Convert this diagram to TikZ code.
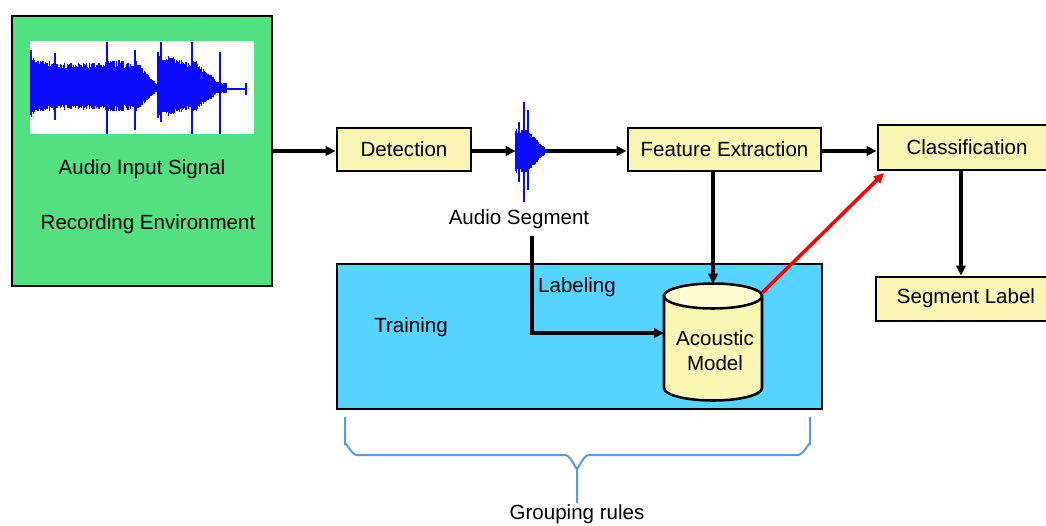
\documentclass[tikz,border=0pt]{standalone}
\usepackage{fontspec}
\setmainfont{Liberation Sans}
\usetikzlibrary{arrows.meta,fit}
\definecolor{envgreen}{RGB}{82,224,128}
\definecolor{boxyellow}{RGB}{250,246,180}
\definecolor{cyltop}{RGB}{253,251,208}
\definecolor{trainblue}{RGB}{85,212,255}
\definecolor{wavblue}{RGB}{10,10,250}
\definecolor{bracecol}{RGB}{91,155,213}
\tikzset{
  box/.style={draw, line width=2.1pt, fill=boxyellow, inner sep=0pt},
  arr/.style={line width=2.6pt, -{Triangle[length=7.5pt,width=7pt]}},
  redarr/.style={line width=2.6pt, red, -{Triangle[length=7.5pt,width=7pt]}},
  wav/.style={wavblue, line width=0.9pt},
  txt/.style={inner sep=0pt}
}
\begin{document}
\begin{tikzpicture}[x=0.75pt, y=-0.75pt, font=\fontsize{15.4}{18.75}\selectfont]
\useasboundingbox (0,0) rectangle (1046,525);

% recording environment box
\node[draw, line width=2.1pt, fill=envgreen, inner sep=0pt, fit={(12,16) (272,286)}] (env) {};
\fill[white] (30,41) rectangle (254,134);
\pgfmathsetseed{11}
\foreach \x in {31,31.7,...,106} {
  \pgfmathsetmacro\a{(26+9*exp(-(\x-31)/8))*(0.75+0.25*rnd)}
  \draw[wav] (\x,88-\a) -- (\x,88+0.85*\a);
}
\foreach \x in {107,107.7,...,134} {
  \pgfmathsetmacro\a{(30-5*(\x-107)/27)*(0.75+0.25*rnd)}
  \draw[wav] (\x,88-\a) -- (\x,88+0.85*\a);
}
\foreach \x in {135,135.7,...,157} {
  \pgfmathsetmacro\a{(28*(1-(\x-135)/23)+2)*(0.75+0.25*rnd)}
  \draw[wav] (\x,88-\a) -- (\x,88+0.85*\a);
}
\foreach \x in {158,158.7,...,191} {
  \pgfmathsetmacro\a{(36-11*(\x-158)/33)*(0.75+0.25*rnd)}
  \draw[wav] (\x,88-\a) -- (\x,88+0.85*\a);
}
\foreach \x in {192,192.7,...,219} {
  \pgfmathsetmacro\a{(28*(1-(\x-192)/28)+4)*(0.75+0.25*rnd)}
  \draw[wav] (\x,88-\a) -- (\x,88+0.85*\a);
}
\foreach \x in {219,219.7,...,226} {
  \pgfmathsetmacro\a{5*(0.6+0.4*rnd)}
  \draw[wav] (\x,88-\a) -- (\x,88+\a);
}
\draw[wav, line width=0.8pt] (226,89) -- (245,89);
\draw[wav, line width=2pt] (246,83) -- (246,95);
\foreach \sx/\ta/\tb in {31/50/112, 55/53/120, 107/42/134, 135/50/130, 161/42/122, 192/42/134, 220/52/134} {
  \draw[wav, line width=1.1pt] (\sx,\ta) -- (\sx,\tb);
}
\node[txt] (ais) at (142,169) {Audio Input Signal};
\node[txt] (rec) at (148,224) {Recording Environment};

% detection
\node[box, fit={(337,128) (471,171)}] (det) {};
\node[txt] (dettxt) at (det.center) {Detection};

% small audio segment waveform
\node[inner sep=0pt, minimum width=23.25pt, minimum height=75pt] (seg) at (531.5,151) {};
\pgfmathsetseed{5}
\foreach \x in {516,516.6,...,547} {
  \pgfmathsetmacro\a{(\x<526 ? 22 : 22*(547-\x)/21+1)*(0.8+0.2*rnd)}
  \draw[wav] (\x,151-\a) -- (\x,151+\a);
}
\draw[wav, line width=1.1pt] (524,102) -- (524,202);
\draw[wav, line width=1pt] (519,122) -- (519,182);
\draw[wav, line width=1pt] (528,110) -- (528,190);
\node[txt] (segtxt) at (519,219) {Audio Segment};

% feature extraction
\node[box, fit={(628,128) (821,171)}] (feat) {};
\node[txt] (feattxt) at (feat.center) {Feature Extraction};

% classification
\node[box, fit={(878,125) (1048,170)}] (cls) {};
\node[txt] (clstxt) at (967,147) {Classification};

% segment label
\node[box, fit={(876,277) (1048,321)}] (lbl) {};
\node[txt] (lbltxt) at (966,298) {Segment Label};

% training box
\node[draw, line width=2.1pt, fill=trainblue, inner sep=0pt, fit={(337,264) (822,409)}] (train) {};
\node[txt] (traintxt) at (411,327) {Training};
\node[txt] (labtxt) at (577,287) {Labeling};

% acoustic model cylinder
\path[draw, line width=1.9pt, fill=boxyellow] (664,296) -- (664,388)
  arc[start angle=180, end angle=360, x radius=36.75pt, y radius=9.375pt]
  -- (762,296) -- cycle;
\draw[line width=1.9pt, fill=cyltop] (713,296) ellipse [x radius=36.75pt, y radius=9.375pt];
\node[inner sep=0pt, minimum width=73.5pt, minimum height=87.75pt] (am) at (713,342.5) {};
\node[txt, align=center] (amtxt) at (715,351) {Acoustic\\Model};

% coordinates
\coordinate (labstart) at (532,236);
\coordinate (amin) at (664,333);
\coordinate (amtr) at (762,293);
\coordinate (clsin) at (884,173);

% connectors
\draw[arr] (env.east |- 0,151) -- (det.west |- 0,151);
\draw[arr] (det.east |- 0,151) -- (seg.west |- 0,151);
\draw[arr] (seg.east |- 0,151) -- (feat.west |- 0,151);
\draw[arr] (feat.east |- 0,151) -- (cls.west |- 0,151);
\draw[arr] (cls.south -| 961,0) -- (lbl.north -| 961,0);
\draw[arr] (feat.south -| am.north) -- (am.north);
\draw[arr] (labstart) |- (amin);
\draw[redarr] (amtr) -- (clsin);

% brace
\draw[bracecol, line width=1.5pt]
  (345,417) -- (345,445) to[out=90, in=180] (357,455) -- (565,455) to[out=0, in=-90] (577,467) -- (577,503);
\draw[bracecol, line width=1.5pt]
  (810,417) -- (810,445) to[out=90, in=0] (798,455) -- (589,455) to[out=180, in=-90] (577,467);
\node[txt] (grp) at (577,514) {Grouping rules};
\end{tikzpicture}
\end{document}
